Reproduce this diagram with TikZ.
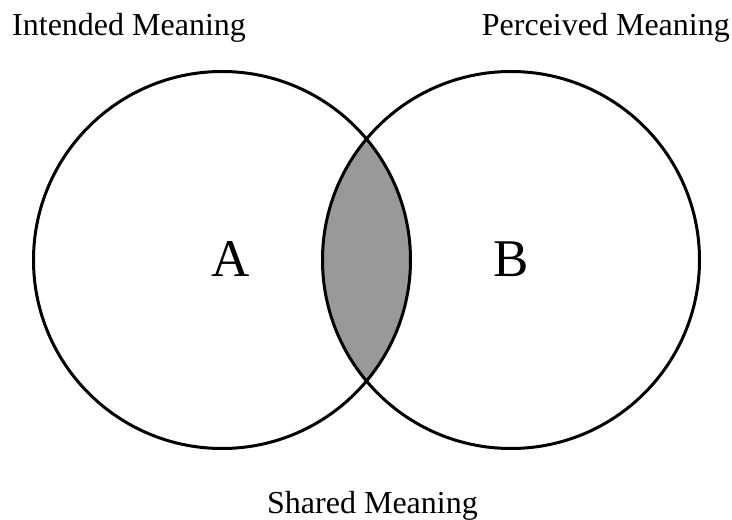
\documentclass[tikz,border=0pt]{standalone}
\usepackage{fontspec}
\setmainfont{Liberation Serif}
\usetikzlibrary{positioning}
\tikzset{
  set/.style={circle, draw, line width=3pt, minimum size=377pt, inner sep=0pt},
  title/.style={font=\fontsize{32}{38}\selectfont, inner sep=0pt},
  big/.style={font=\fontsize{53}{60}\selectfont, inner sep=0pt}
}
\begin{document}
\begin{tikzpicture}[x=1pt, y=1pt]
		\useasboundingbox (0,0) rectangle (732,520);
		\coordinate (cA) at (222,260);
		\coordinate (cB) at (511,260);
		% shared part
		\begin{scope}
			\clip (cA) circle (188.5);
			\fill[black!40] (cB) circle (188.5);
		\end{scope}
		\node[set] (SA) at (cA) {};
		\node[set] (SB) at (cB) {};
		\node[big, anchor=base] (LA) at (231,243) {A};
		\node[big, anchor=base] (LB) at (511,243) {B};
		\node[title, anchor=base west] (TA) at (12,484) {Intended Meaning};
		\node[title, anchor=base east] (TB) at (730,484) {Perceived Meaning};
		\node[title, anchor=base] (TS) at (372.5,6) {Shared Meaning};
	\end{tikzpicture}
\end{document}
